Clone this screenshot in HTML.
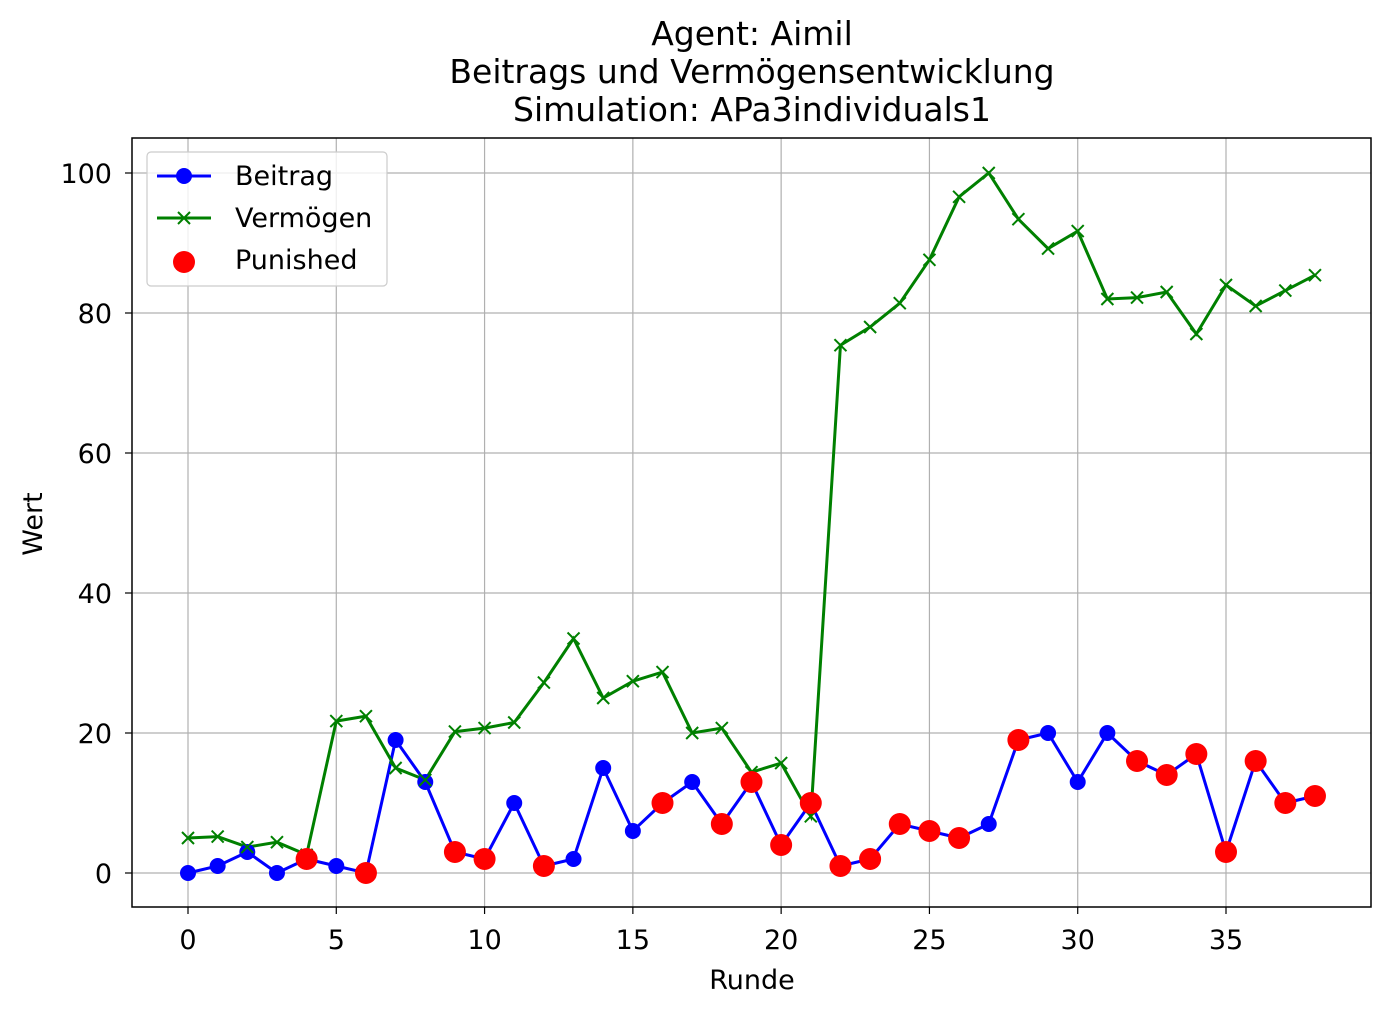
<!DOCTYPE html>
<html><head><meta charset="utf-8"><style>
html,body{margin:0;padding:0;background:#fff;}
svg{display:block;font-family:"DejaVu Sans","Liberation Sans",sans-serif;}
</style></head><body>
<svg id="chart" width="1391" height="1015" viewBox="0 0 1391 1015">
<g id="grid"></g>
<g id="series"></g>
<rect x="132" y="138" width="1239" height="769" fill="none" stroke="#000" stroke-width="1.5"/>
<g id="ticks"></g>
<text x="752" y="45" font-size="33" text-anchor="middle">Agent: Aimil</text>
<text x="752" y="83" font-size="33" text-anchor="middle">Beitrags und Vermögensentwicklung</text>
<text x="752" y="121" font-size="33" text-anchor="middle">Simulation: APa3individuals1</text>
<text x="752" y="989" font-size="27" text-anchor="middle">Runde</text>
<text x="42" y="524" font-size="27" text-anchor="middle" transform="rotate(-90 42 524)">Wert</text>
<g>
<rect x="147" y="152" width="240" height="134" rx="4" fill="#fff" fill-opacity="0.8" stroke="#ccc" stroke-width="1.2"/>
<g>
<line x1="157" y1="176" x2="211" y2="176" stroke="#0000ff" stroke-width="3"/>
<circle cx="184" cy="176" r="8" fill="#0000ff"/>
<text x="235" y="185" font-size="27">Beitrag</text></g>
<g>
<line x1="157" y1="218" x2="211" y2="218" stroke="#008000" stroke-width="3"/>
<path d="M178 212 L190 224 M178 224 L190 212" stroke="#008000" stroke-width="2"/>
<text x="235" y="227" font-size="27">Vermögen</text></g>
<g>
<circle cx="184" cy="262" r="11" fill="#ff0000"/>
<text x="235" y="269" font-size="27">Punished</text></g>
</g>
</svg>
<script>
const rounds=[0,1,2,3,4,5,6,7,8,9,10,11,12,13,14,15,16,17,18,19,20,21,22,23,24,25,26,27,28,29,30,31,32,33,34,35,36,37,38];
const beitrag=[0,1,3,0,2,1,0,19,13,3,2,10,1,2,15,6,10,13,7,13,4,10,1,2,7,6,5,7,19,20,13,20,16,14,17,3,16,10,11];
const vermoegen=[5,5.2,3.7,4.4,2.6,21.7,22.4,15,13.3,20.2,20.7,21.5,27.2,33.5,25,27.4,28.7,20,20.7,14.4,15.7,8.1,75.4,78,81.4,87.6,96.6,100,93.4,89.2,91.7,82,82.2,83,77,84,81,83.2,85.4];
const punishedRounds=[4,6,9,10,12,16,18,19,20,21,22,23,24,25,26,28,32,33,34,35,36,37,38];
const xTicks=[0,5,10,15,20,25,30,35];
const yTicks=[0,20,40,60,80,100];
const NS="http://www.w3.org/2000/svg";
const X=v=>188+v*(1226-188)/35;
const Y=v=>873-v*7.0;
function mk(tag,attrs,parent){const e=document.createElementNS(NS,tag);for(const k in attrs)e.setAttribute(k,attrs[k]);parent.appendChild(e);return e;}
const grid=document.getElementById('grid'),ticks=document.getElementById('ticks'),ser=document.getElementById('series');
xTicks.forEach(t=>{
 const g=mk('line',{x1:X(t),x2:X(t),y1:138,y2:907,stroke:'#b0b0b0','stroke-width':1.2},grid);
 
 
 mk('line',{x1:X(t),x2:X(t),y1:907,y2:914,stroke:'#000','stroke-width':1.2},ticks);
 const l=mk('text',{x:X(t),y:949,'font-size':27,'text-anchor':'middle'},ticks);l.textContent=t;
 
 
});
yTicks.forEach(t=>{
 const g=mk('line',{x1:132,x2:1371,y1:Y(t),y2:Y(t),stroke:'#b0b0b0','stroke-width':1.2},grid);
 
 
 mk('line',{x1:125,x2:132,y1:Y(t),y2:Y(t),stroke:'#000','stroke-width':1.2},ticks);
 const l=mk('text',{x:112,y:Y(t)+10,'font-size':27,'text-anchor':'end'},ticks);l.textContent=t;
 
 
});
const bl=mk('polyline',{points:rounds.map((r,i)=>X(r)+','+Y(beitrag[i])).join(' '),fill:'none',stroke:'#0000ff','stroke-width':3},ser);


const vl=mk('polyline',{points:rounds.map((r,i)=>X(r)+','+Y(vermoegen[i])).join(' '),fill:'none',stroke:'#008000','stroke-width':3},ser);


rounds.forEach((r,i)=>{
 const c=mk('circle',{cx:X(r),cy:Y(beitrag[i]),r:8,fill:'#0000ff'},ser);
 
 
 const x=X(r),y=Y(vermoegen[i]);
 const p=mk('path',{d:`M${x-6} ${y-6}L${x+6} ${y+6}M${x-6} ${y+6}L${x+6} ${y-6}`,stroke:'#008000','stroke-width':2},ser);
 
 
});
punishedRounds.forEach(r=>{
 const i=rounds.indexOf(r);
 const c=mk('circle',{cx:X(r),cy:Y(beitrag[i]),r:11,fill:'#ff0000'},ser);
 
 
});
</script>
</body></html>
